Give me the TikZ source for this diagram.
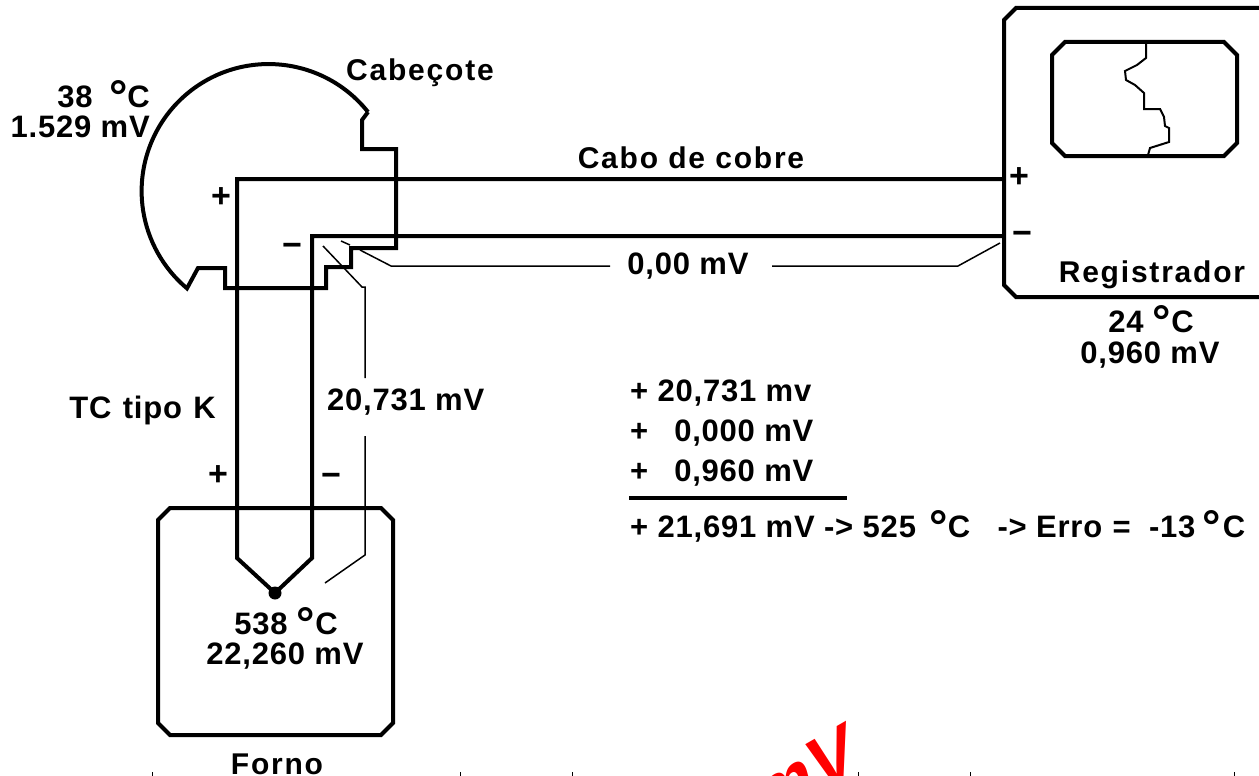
\documentclass[tikz,border=0pt]{standalone}
\usepackage{fontspec}
\setmainfont{Liberation Sans Bold}[LetterSpace=2.5]
\newfontfamily\redfont{Liberation Sans Bold}
\newfontfamily\headfont{Liberation Sans Bold}[LetterSpace=6]
\usetikzlibrary{calc}
\newcommand{\grau}{\raisebox{-5pt}{\fontsize{46}{46}\selectfont °}}
\begin{document}
\begin{tikzpicture}[x=1pt,y=-1pt,
    wire/.style={line width=4pt,line join=miter},
    thinwire/.style={line width=1.5pt},
    label/.style={font=\fontsize{31}{36}\selectfont,inner sep=0pt,align=center},
    title/.style={font=\fontsize{30}{36}\selectfont\headfont,inner sep=0pt},
    sign/.style={font=\fontsize{34}{36}\selectfont,inner sep=0pt}]
    \useasboundingbox (0,0) rectangle (1259,776);
    \clip (0,0) rectangle (1259,776);
    % Define points
    \coordinate (P1) at (237,179);
    \coordinate (P2) at (1004,179);
    \coordinate (N1) at (312,236);
    \coordinate (N2) at (1004,236);
    \coordinate (F1) at (237,558);
    \coordinate (F2) at (312,558);
    \coordinate (T) at (275,593);
    % Draw head
    \draw[wire] (368,112) arc[start angle=-38.5,end angle=-230,radius=127]
    -- (198,268) -- (225,268) -- (225,288) -- (326,288) -- (326,267) -- (351,267)
    -- (351,248) -- (396,248) -- (396,149) -- (362,149) -- (362,120) -- (368,112);
    \draw[wire] (T) -- (F1) -- (P1) -- (P2);
    \draw[wire] (T) -- (F2) -- (N1) -- (N2);
    \fill (T) circle (6.5);
    % Draw furnace
    \draw[wire] (170,508) -- (381,508) -- (393,520) -- (393,723) -- (381,735)
    -- (170,735) -- (158,723) -- (158,520) -- cycle;
    % Draw recorder
    \draw[wire] (1259,8) -- (1016,8) -- (1004,20) -- (1004,285) -- (1016,297) -- (1259,297);
    \draw[wire] (1065,42) -- (1224,42) -- (1237,55) -- (1237,143) -- (1224,156)
    -- (1065,156) -- (1052,143) -- (1052,55) -- cycle;
    \draw[line width=2pt] (1146,43) -- (1146,58) -- (1137,65) -- (1125,71) -- (1126,80)
    -- (1135,85) -- (1144,93) -- (1144,109) -- (1160,109) -- (1164,117) -- (1165,126)
    -- (1169,128) -- (1169,142) -- (1150,148) -- (1148,155);
    % Thin leaders
    \draw[thinwire] (323,246) -- (362,287) -- (365,287) -- (365,378);
    \draw[thinwire] (365,436) -- (365,555) -- (325,583);
    \draw[thinwire] (341,241) -- (350,245);
    \draw[thinwire] (360,250) -- (391,266) -- (610,266);
    \draw[thinwire] (772,266) -- (958,266) -- (1000,243);
    % Labels
    \node[label,anchor=east] (headtemp) at (150,96) {38\hspace{7pt} \grau C};
    \node[label,anchor=east] (headmv) at (150,127) {1.529 mV};
    \node[title,anchor=west] (head) at (346,73) {Cabeçote};
    \node[title] (cable) at (691,158) {Cabo de cobre};
    \node[label] (zero) at (688,266) {0,00 mV};
    \node[title] (recorder) at (1152,275) {Registrador};
    \node[label] (rectemp) at (1151,321) {24 \grau C};
    \node[label] (recmv) at (1150,355) {0,960 mV};
    \node[label,anchor=east] (tc) at (216,410) {TC\hspace{2pt} tipo\hspace{2pt} K};
    \node[label,anchor=west] (legmv) at (327,402) {20,731 mV};
    \node[label] (furntemp) at (286,623) {538 \grau C};
    \node[label] (furnmv) at (285,656) {22,260 mV};
    \node[title] (furnace) at (277,764) {Forno};
    \node[sign] (hplus) at (221,198) {+};
    \node[sign] (hminus) at (292,250) {−};
    \node[sign] (lplus) at (218,476) {+};
    \node[sign] (lminus) at (331,480) {−};
    \node[sign] (rplus) at (1019,178) {+};
    \node[sign] (rminus) at (1022,238) {−};
    % Sum
    \node[label,anchor=west] (sum1) at (630,393) {+ 20,731 mv};
    \node[label,anchor=west] (sum2) at (630,433) {+\hspace{26pt}0,000 mV};
    \node[label,anchor=west] (sum3) at (630,473) {+\hspace{26pt}0,960 mV};
    \node[label,anchor=west] (sum4) at (630,526) {+ 21,691 mV -> 525\hspace{4pt} \grau C\hspace{18pt} -> Erro\hspace{1pt} =\hspace{9pt} -13\hspace{7pt}\grau\hspace{2pt}C};
    \draw[wire] (629,498) -- (847,498);
    % Cut-off stamp
    \node[transform shape,rotate=30,xslant=.27,red,inner sep=0pt,anchor=base east,font=\fontsize{72}{72}\selectfont\redfont] (stamp) at (860,770) {mV};
    % Edge marks
    \foreach \x/\name in {152/a,460/b,572/c,858/d,970/e,1234/f}
    \draw[line width=1pt] (\x,772) coordinate (tick\name) -- (\x,776);
\end{tikzpicture}
\end{document}
